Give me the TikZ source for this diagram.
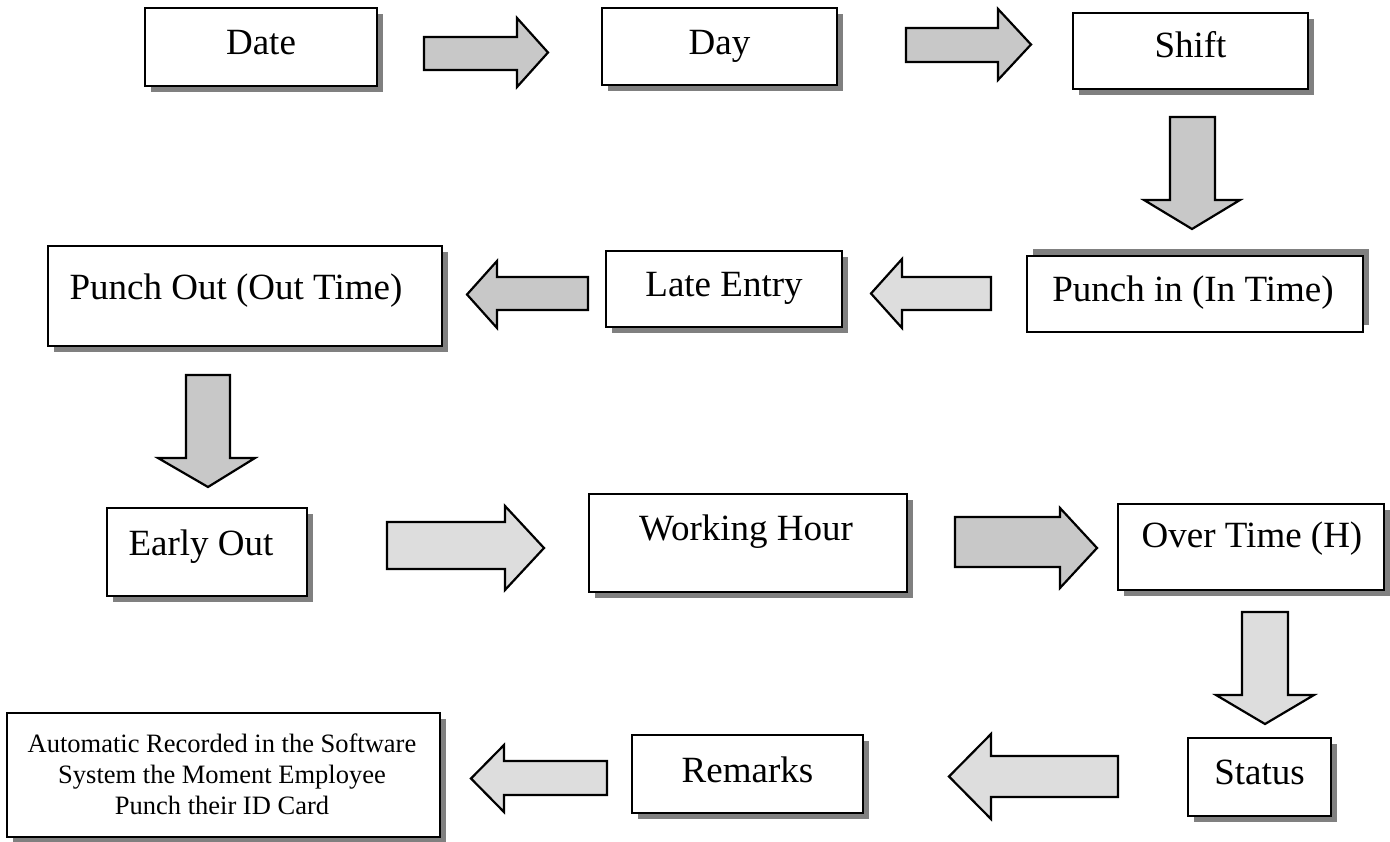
\documentclass[tikz,border=0pt]{standalone}
\usepackage{fontspec}
\setmainfont{Liberation Serif}
\usetikzlibrary{shadows}
\definecolor{shade}{RGB}{128,128,128}
\definecolor{arrowdark}{RGB}{200,200,200}
\definecolor{arrowlight}{RGB}{221,221,221}
\begin{document}
\begin{tikzpicture}[x=1pt,y=-1pt,
  box/.style={draw=black, line width=2.8pt, fill=white, inner sep=0pt,
    drop shadow={shadow xshift=6pt, shadow yshift=-6pt, fill=shade, opacity=1}},
  boxup/.style={draw=black, line width=2.8pt, fill=white, inner sep=0pt,
    drop shadow={shadow xshift=6pt, shadow yshift=7pt, fill=shade, opacity=1}},
  size/.style 2 args={minimum width=#1pt, minimum height=#2pt},
  lbl/.style={font=\fontsize{37}{41}\selectfont, anchor=base, inner sep=0pt},
  small/.style={font=\fontsize{26.5}{31}\selectfont, anchor=base, inner sep=0pt},
  darkarrow/.style={draw=black, line width=2.2pt, fill=arrowdark, line join=miter},
  lightarrow/.style={draw=black, line width=2.2pt, fill=arrowlight, line join=miter}]
\useasboundingbox (0,0) rectangle (1390,842);

% ---- boxes ----
\node[box, size={232}{78}] (date) at (261,47) {};
\node[box, size={235}{77}] (day) at (719.5,46.5) {};
\node[box, size={235}{76}] (shift) at (1190.5,51) {};
\node[boxup, size={336}{76}] (punchin) at (1195,294) {};
\node[box, size={236}{76}] (late) at (724,289) {};
\node[box, size={394}{100}] (punchout) at (245,296) {};
\node[box, size={200}{88}] (early) at (207,552) {};
\node[box, size={318}{98}] (working) at (748,543) {};
\node[box, size={266}{86}] (overtime) at (1251,547) {};
\node[box, size={143}{78}] (status) at (1259.5,777) {};
\node[box, size={231}{78}] (remarks) at (747.5,774) {};
\node[box, size={433}{124}] (auto) at (223.5,775) {};

% ---- labels ----
\node[lbl] (date-t) at (261,55) {Date};
\node[lbl] (day-t) at (719.5,55) {Day};
\node[lbl] (shift-t) at (1190.5,58) {Shift};
\node[lbl] (punchin-t) at (1193,302) {Punch in (In Time)};
\node[lbl] (late-t) at (724,297) {Late Entry};
\node[lbl] (punchout-t) at (236,300) {Punch Out (Out Time)};
\node[lbl] (early-t) at (201,555) {Early Out};
\node[lbl] (working-t) at (746,540) {Working Hour};
\node[lbl] (overtime-t) at (1252,547) {Over Time (H)};
\node[lbl] (status-t) at (1259.5,784) {Status};
\node[lbl] (remarks-t) at (747.5,782) {Remarks};
\node[small] (auto-t1) at (222,752) {Automatic Recorded in the Software};
\node[small] (auto-t2) at (222,783) {System the Moment Employee};
\node[small] (auto-t3) at (222,814) {Punch their ID Card};

% ---- block arrows ----
% Date -> Day
\draw[darkarrow] (424,37)--(517,37)--(517,18)--(548,52.5)--(517,87)--(517,70)--(424,70)--cycle;
% Day -> Shift
\draw[darkarrow] (906,28)--(998,28)--(998,9)--(1031,44.5)--(998,80)--(998,62)--(906,62)--cycle;
% Shift -> Punch in
\draw[darkarrow] (1170,117)--(1215,117)--(1215,200)--(1240,200)--(1192,229)--(1144,200)--(1170,200)--cycle;
% Punch in -> Late Entry
\draw[lightarrow] (991,277)--(902,277)--(902,259)--(871,293.5)--(902,328)--(902,310)--(991,310)--cycle;
% Late Entry -> Punch Out
\draw[darkarrow] (588,277)--(497,277)--(497,261)--(467,294.5)--(497,328)--(497,310)--(588,310)--cycle;
% Punch Out -> Early Out
\draw[darkarrow] (186,375)--(230,375)--(230,458)--(255,458)--(208,487)--(158,458)--(186,458)--cycle;
% Early Out -> Working Hour
\draw[lightarrow] (387,522)--(505,522)--(505,506)--(544,548)--(505,590)--(505,569)--(387,569)--cycle;
% Working Hour -> Over Time
\draw[darkarrow] (955,517)--(1060,517)--(1060,508)--(1097,548)--(1060,588)--(1060,567)--(955,567)--cycle;
% Over Time -> Status
\draw[lightarrow] (1242,612)--(1288,612)--(1288,695)--(1314,695)--(1265,724)--(1216,695)--(1242,695)--cycle;
% Status -> Remarks
\draw[lightarrow] (1118,756)--(991,756)--(991,734)--(949,776.5)--(991,819)--(991,797)--(1118,797)--cycle;
% Remarks -> final record
\draw[lightarrow] (607,761)--(504,761)--(504,745)--(471,778.5)--(504,812)--(504,795)--(607,795)--cycle;
\end{tikzpicture}
\end{document}
